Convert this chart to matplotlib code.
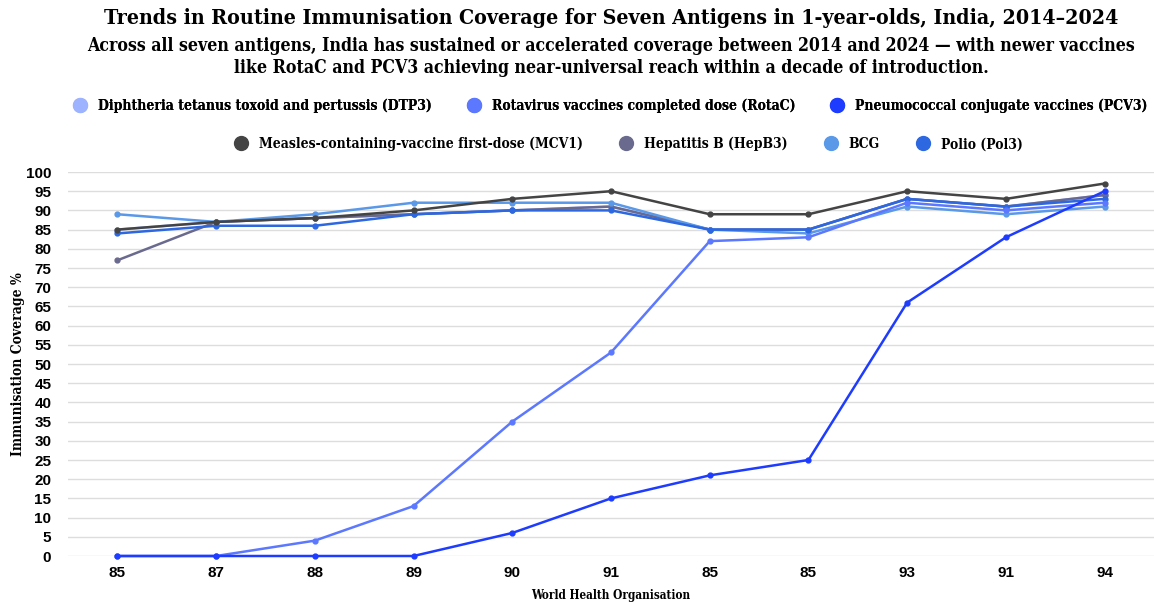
import matplotlib
matplotlib.use("Agg")
import matplotlib.pyplot as plt
from matplotlib.lines import Line2D

x_labels = ["85", "87", "88", "89", "90", "91", "85", "85", "93", "91", "94"]

series_names = [
    "Diphtheria tetanus toxoid and pertussis (DTP3)",
    "Rotavirus vaccines completed dose (RotaC)",
    "Pneumococcal conjugate vaccines (PCV3)",
    "Measles-containing-vaccine first-dose (MCV1)",
    "Hepatitis B (HepB3)",
    "BCG",
    "Polio (Pol3)",
]
dtp3 = [85, 87, 88, 89, 90, 91, 85, 85, 93, 91, 94]
rotac = [0, 0, 4, 13, 35, 53, 82, 83, 92, 90, 92]
pcv3 = [0, 0, 0, 0, 6, 15, 21, 25, 66, 83, 95]
mcv1 = [85, 87, 88, 90, 93, 95, 89, 89, 95, 93, 97]
hepb3 = [77, 87, 88, 89, 90, 91, 85, 85, 93, 91, 94]
bcg = [89, 87, 89, 92, 92, 92, 85, 84, 91, 89, 91]
pol3 = [84, 86, 86, 89, 90, 90, 85, 85, 93, 91, 93]

values = [dtp3, rotac, pcv3, mcv1, hepb3, bcg, pol3]
colors = ["#9db3ff", "#5b78ff", "#1e3cff", "#444444", "#6a6a8e", "#5a98e8", "#2d68e0"]
draw_order = [0, 4, 5, 6, 1, 2, 3]

W, H = 1154, 604
fig = plt.figure(figsize=(W / 100, H / 100), dpi=100)
ax = fig.add_axes([68 / W, 1 - 556 / H, (1154 - 68) / W, (556 - 172) / H])

SERIF = dict(family="DejaVu Serif", fontstretch="condensed", fontweight="bold")

xs = list(range(len(x_labels)))
for i in draw_order:
    ax.plot(xs, values[i], color=colors[i], lw=1.8, marker="o", ms=3.5,
            clip_on=False, zorder=3 + (1 if i == 3 else 0))

ax.set_xlim(-0.5, len(x_labels) - 0.5)
ax.set_ylim(0, 100)
ax.set_yticks(range(0, 101, 5))
ax.set_xticks(xs)
ax.set_xticklabels(x_labels)
for s in ax.spines.values():
    s.set_visible(False)
ax.tick_params(length=0, labelsize=11, pad=7)
for lab in ax.get_xticklabels() + ax.get_yticklabels():
    lab.set_fontweight("bold")
    lab.set_family("Liberation Sans")
ax.tick_params(axis="y", pad=12)
ax.grid(axis="y", color="#dddddd", lw=1)
ax.set_axisbelow(True)

ax.set_ylabel("Immunisation Coverage %", fontsize=10, va="center", **SERIF)
ax.yaxis.set_label_coords(-(68 - 18) / 1086, 0.5)
ax.set_xlabel("World Health Organisation", fontsize=8.5, va="center", **SERIF)
ax.xaxis.set_label_coords(0.5, -(596 - 556) / 384)

fig.text(611 / W, 1 - 18 / H, "Trends in Routine Immunisation Coverage for Seven Antigens in 1-year-olds, India, 2014\u20132024",
         ha="center", va="center", fontsize=15.3, **SERIF)
fig.text(611 / W, 1 - 57 / H,
         "Across all seven antigens, India has sustained or accelerated coverage between 2014 and 2024 \u2014 with newer vaccines\nlike RotaC and PCV3 achieving near-universal reach within a decade of introduction.",
         ha="center", va="center", fontsize=12.7, linespacing=1.3, **SERIF)

def handles(idx):
    return [Line2D([], [], ls="none", marker="o", ms=10, color=colors[i], label=series_names[i]) for i in idx]

leg_kw = dict(frameon=False, handletextpad=0.3, borderaxespad=0,
              prop=dict(family="DejaVu Serif", stretch="condensed", weight="bold", size=10))
l1 = fig.legend(handles=handles([0, 1, 2]), ncol=3, loc="center",
                bbox_to_anchor=(607 / W, 1 - 106 / H), columnspacing=2.0, **leg_kw)
fig.add_artist(l1)
l2 = fig.legend(handles=handles([3, 4, 5, 6]), ncol=4, loc="center",
                bbox_to_anchor=(625 / W, 1 - 144 / H), columnspacing=2.1, **leg_kw)

fig.savefig("out.png", dpi=100)
